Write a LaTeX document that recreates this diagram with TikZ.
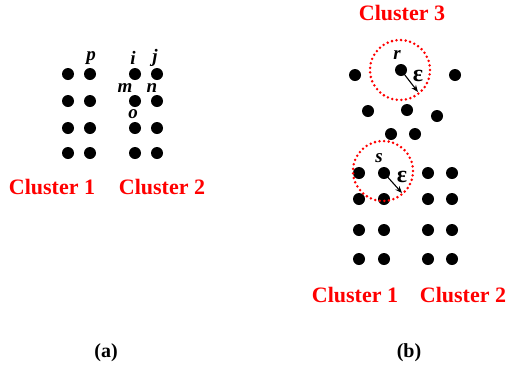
\documentclass[tikz,border=0pt]{standalone}
\usepackage{fontspec}
\setmainfont{Liberation Serif}
\usetikzlibrary{arrows.meta}
\begin{document}
\begin{tikzpicture}[x=1pt,y=-1pt,
  pt/.style={circle,fill=black,inner sep=0pt,minimum size=12pt},
  lbl/.style={inner sep=0pt,font=\fontsize{19}{19}\selectfont\bfseries\itshape},
  eps/.style={inner sep=0pt,font=\fontsize{24}{24}\selectfont\bfseries},
  clus/.style={inner sep=0pt,text=red,font=\fontsize{22}{22}\selectfont\bfseries},
  captxt/.style={inner sep=0pt,font=\fontsize{20}{20}\selectfont\bfseries},
  ring/.style={circle,draw=red,line width=2.8pt,line cap=round,dash pattern=on 0pt off 4.6pt,minimum size=60pt,inner sep=0pt},
  arr/.style={-{Stealth[length=7pt,width=5.5pt]},line width=1.1pt}]
\useasboundingbox (0,0) rectangle (508,373);
% panel (a)
\foreach \c/\x in {1/68,2/90,3/135,4/157}{
  \foreach \r/\y in {1/74,2/101,3/128,4/153}{
    \node[pt] (a\c\r) at (\x,\y) {};
  }
}
\node[lbl] (lp) at (91,58) {p};
\node[lbl] (li) at (133,58) {i};
\node[lbl] (lj) at (155,58) {j};
\node[lbl] (lm) at (125,88) {m};
\node[lbl] (ln) at (152,88) {n};
\node[lbl] (lo) at (133,114) {o};
\node[clus] (ca1) at (52,187) {Cluster 1};
\node[clus] (ca2) at (162,187) {Cluster 2};
\node[captxt] (capa) at (106,353) {(a)};
% panel (b)
\node[clus] (cb3) at (402,13) {Cluster 3};
\node[ring] (ringr) at (400,70) {};
\node[pt] (r) at (401,70) {};
\node[lbl] (lr) at (397,55) {r};
\node[eps] (er) at (418,76) {ε};
\coordinate (re) at (418,92);
\draw[arr] (r.center) -- (re);
\node[pt] (b1) at (355,75) {};
\node[pt] (b2) at (455,75) {};
\node[pt] (b3) at (368,111) {};
\node[pt] (b4) at (407,110) {};
\node[pt] (b5) at (437,116) {};
\node[pt] (b6) at (391,134) {};
\node[pt] (b7) at (415,134) {};
\foreach \c/\x in {1/359,2/384,3/428,4/452}{
  \foreach \r/\y in {1/173,2/199,3/230,4/259}{
    \node[pt] (g\c\r) at (\x,\y) {};
  }
}
\node[ring] (rings) at (383,171) {};
\node[lbl] (ls) at (379,158) {s};
\node[eps] (es) at (402,177) {ε};
\coordinate (se) at (402,193);
\draw[arr] (g21.center) -- (se);
\node[clus] (cb1) at (355,295) {Cluster 1};
\node[clus] (cb2) at (463,295) {Cluster 2};
\node[captxt] (capb) at (409,353) {(b)};
\end{tikzpicture}
\end{document}
